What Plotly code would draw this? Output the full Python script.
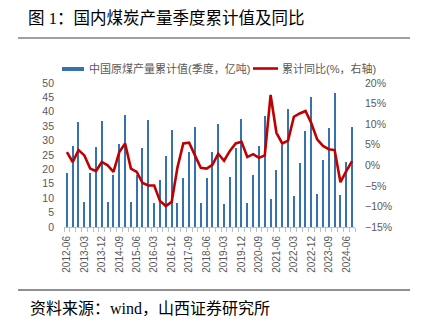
import plotly.graph_objects as go

# ---------------- data ----------------
quarters = [f"{y}-{m:02d}" for y in range(2012, 2025) for m in (3, 6, 9, 12)][1:51]

output_cum = [18.8, 28.3, 36.6, 8.7, 18.6, 27.7, 36.9, 8.6, 18.0, 28.7,
              39.0, 8.6, 18.0, 27.3, 37.0, 8.2, 16.3, 24.7, 33.7, 8.2,
              17.1, 26.0, 34.7, 8.2, 16.9, 26.0, 35.7, 8.1, 17.5, 27.3,
              37.6, 8.3, 18.0, 28.1, 38.4, 9.7, 19.8, 28.5, 40.9, 10.7,
              22.1, 33.4, 45.1, 11.6, 23.3, 34.5, 46.5, 11.2, 22.7, 34.7]

yoy_cum = [3.2, 0.8, 3.7, 2.4, -0.8, -1.4, 0.8, 0.0, -1.6, 3.2,
           5.3, -0.8, -1.6, -4.3, -4.9, -4.9, -8.7, -9.9, -8.9, -0.5,
           5.3, 5.5, 2.4, -0.6, -0.8, 0.1, 2.8, 1.1, 3.5, 5.3,
           5.7, 2.0, 2.7, 1.8, 2.4, 17.1, 7.9, 5.3, 6.0, 11.8,
           12.6, 13.2, 10.2, 6.3, 4.7, 3.9, 3.7, -4.1, -1.4, 1.0]

name_bar = "中国原煤产量累计值(季度，亿吨)"
name_line = "累计同比(%，右轴)"
title_text = "图 1：国内煤炭产量季度累计值及同比"
source_text = "资料来源：wind，山西证券研究所"

# ---------------- style ----------------
W, H = 423, 326
L, R, T, B = 64, 68, 83, 99
BAR = "#3672AC"
RED = "#C00000"
GREY = "#595959"
CJK = "Liberation Sans, Noto Sans CJK SC"
SERIF = "Liberation Serif, Noto Sans CJK SC"

pw, ph = W - L - R, H - T - B
def px_x(px):
    return (px - L) / pw
def px_y(py):
    return (H - B - py) / ph

n = len(quarters)
x = list(range(n))

fig = go.Figure()
fig.add_bar(x=x, y=output_cum, marker_color=BAR, marker_line_width=0,
            width=0.2, name=name_bar, showlegend=False)
fig.add_scatter(x=x, y=yoy_cum, yaxis="y2", mode="lines", name=name_line,
                line=dict(color=RED, width=2.6), showlegend=False)

fig.update_layout(
    width=W, height=H, margin=dict(l=L, r=R, t=T, b=B),
    paper_bgcolor="white", plot_bgcolor="white",
    showlegend=False,
    title=dict(text=title_text, xref="container", yref="container",
               x=28 / W, xanchor="left", y=1 - 18 / H, yanchor="middle",
               font=dict(size=16.5, color="black", family=SERIF)),
    xaxis=dict(range=[-0.5, n - 0.5], tickmode="array", tickvals=x[::3],
               ticktext=quarters[::3], tickangle=-90, ticks="",
               tickfont=dict(size=10, color=GREY, family=CJK),
               showline=True, linecolor="#BFBFBF", linewidth=1,
               showgrid=False, zeroline=False, ticklabelstandoff=4,
               minor=dict(tickmode="array",
                          tickvals=[i - 0.5 for i in range(n + 1)],
                          ticks="outside", ticklen=4, tickcolor="#BFBFBF",
                          showgrid=False)),
    yaxis=dict(range=[0, 50], dtick=5, tick0=0, showgrid=False,
               zeroline=False, showline=False, ticks="",
               tickfont=dict(size=10.5, color=GREY, family=CJK),
               ticklabelstandoff=9),
    yaxis2=dict(range=[-15, 20], dtick=5, tick0=-15, overlaying="y",
                side="right", showgrid=False, zeroline=False, showline=False,
                ticks="", ticksuffix="%",
                tickfont=dict(size=10.5, color=GREY, family=CJK),
                ticklabelstandoff=9),
    bargap=0,
)

# legend (drawn by hand to match the original spacing)
fig.add_shape(type="rect", xref="paper", yref="paper",
              x0=px_x(62), x1=px_x(84), y0=px_y(71), y1=px_y(67),
              fillcolor=BAR, line_width=0)
fig.add_annotation(text=name_bar, xref="paper", yref="paper",
                   x=px_x(87), y=px_y(69), xanchor="left", yanchor="middle",
                   showarrow=False, font=dict(size=11, color=GREY, family=CJK))
fig.add_shape(type="line", xref="paper", yref="paper",
              x0=px_x(253), x1=px_x(278), y0=px_y(68.5), y1=px_y(68.5),
              line=dict(color=RED, width=2.6))
fig.add_annotation(text=name_line, xref="paper", yref="paper",
                   x=px_x(280), y=px_y(69), xanchor="left", yanchor="middle",
                   showarrow=False, font=dict(size=11, color=GREY, family=CJK))

fig.add_shape(type="line", xref="paper", yref="paper",
              x0=px_x(18), x1=px_x(410), y0=px_y(38), y1=px_y(38),
              line=dict(color="#7F7F7F", width=1.5))
fig.add_shape(type="line", xref="paper", yref="paper",
              x0=px_x(18), x1=px_x(410), y0=px_y(290), y1=px_y(290),
              line=dict(color="#222222", width=1))
fig.add_annotation(text=source_text, xref="paper", yref="paper",
                   x=px_x(28), y=px_y(308), xanchor="left", yanchor="middle",
                   showarrow=False,
                   font=dict(size=16, color="black", family=SERIF))

fig.write_html("out.html")
